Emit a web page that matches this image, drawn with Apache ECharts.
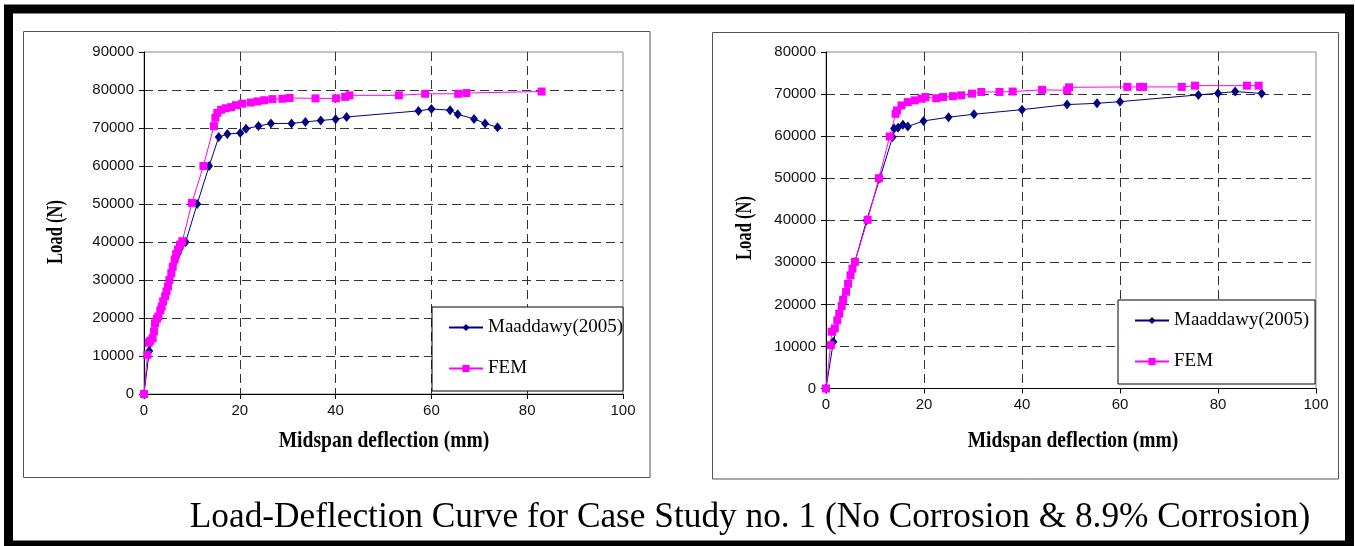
<!DOCTYPE html>
<html>
<head>
<meta charset="utf-8">
<script src="https://cdn.jsdelivr.net/npm/echarts@6/dist/echarts.min.js"></script>
<style>
  html, body { margin: 0; padding: 0; background: #fff; }
  #chart { width: 1355px; height: 546px; }
</style>
</head>
<body>
<div id="chart"></div>
<script>
// Midspan deflection (mm) vs load (N) pairs, case study no. 1
// Left panel: no corrosion
const maaddawyNoCorrosion = [
  [0, 0], [1.1, 11300], [3.0, 20400], [5.3, 30000], [8.7, 40000], [11.1, 50000],
  [13.6, 60000], [15.6, 67600], [17.4, 68400], [20.1, 68700], [21.3, 69800],
  [23.9, 70500], [26.5, 71200], [30.8, 71200], [33.7, 71600], [36.9, 72000],
  [40.0, 72300], [42.3, 72900], [57.3, 74500], [60.0, 75000], [63.9, 74700],
  [65.5, 73600], [68.9, 72400], [71.2, 71200], [73.8, 70200]
];
const femNoCorrosion = [
  [0, 0], [0.7, 10300], [1.0, 13500], [1.3, 14000], [1.8, 14700], [2.1, 16500],
  [2.3, 18600], [2.7, 19800], [3.0, 20400], [3.4, 22000], [3.7, 23000], [4.0, 24400],
  [4.4, 25700], [4.7, 27000], [5.0, 28300], [5.3, 30000], [5.7, 31800], [6.0, 33500],
  [6.4, 35400], [6.7, 36800], [7.1, 38000], [7.5, 39300], [8.0, 40200], [10.0, 50300],
  [12.4, 60000], [14.6, 70500], [14.9, 72700], [15.3, 74000], [16.1, 74800],
  [17.1, 75200], [18.2, 75500], [19.2, 76000], [20.5, 76400], [22.3, 76700],
  [23.7, 77000], [25.1, 77300], [26.8, 77600], [28.9, 77700], [30.4, 77900],
  [35.8, 77800], [40.1, 77800], [42.0, 78200], [42.9, 78600], [53.2, 78600],
  [58.7, 79000], [65.6, 79000], [67.3, 79200], [83.0, 79600]
];
// Right panel: 8.9% corrosion
const maaddawyCorroded = [
  [0, 0], [1.5, 11100], [3.5, 21100], [5.9, 30100], [8.3, 40000], [11.0, 50000],
  [13.6, 59800], [13.9, 61800], [14.7, 62000], [15.7, 62700], [16.7, 62300],
  [19.9, 63600], [25.0, 64500], [30.2, 65200], [40.0, 66300], [49.2, 67500],
  [55.3, 67800], [60.0, 68200], [76.0, 69800], [80.0, 70200], [83.5, 70600],
  [88.9, 70150]
];
const femCorroded = [
  [0, 0], [0.95, 10300], [1.15, 13500], [1.8, 14300], [2.3, 16200], [2.7, 17800],
  [3.2, 19600], [3.5, 21100], [4.1, 23000], [4.5, 24900], [5.0, 26900], [5.4, 28500],
  [5.9, 30100], [8.5, 40100], [10.8, 50000], [13.0, 59900], [14.2, 65300],
  [14.5, 66100], [15.4, 67300], [16.7, 68100], [18.1, 68500], [19.5, 68900],
  [20.3, 69300], [22.5, 69000], [23.9, 69300], [25.9, 69500], [27.6, 69700],
  [29.8, 70100], [31.7, 70500], [35.4, 70500], [38.1, 70600], [44.1, 71000],
  [49.2, 70900], [49.6, 71600], [61.5, 71700], [64.1, 71700], [64.7, 71700],
  [72.6, 71700], [75.3, 72000], [85.9, 72000], [88.3, 72000]
];

// Axis ranges and tick steps
const deflectionTicks = { min: 0, max: 100, step: 20 };
const loadTicksLeft = { min: 0, max: 90000, step: 10000 };
const loadTicksRight = { min: 0, max: 80000, step: 10000 };

const seriesNames = ['Maaddawy(2005)', 'FEM'];
const captionText = 'Load-Deflection Curve for Case Study no. 1 (No Corrosion & 8.9% Corrosion)';
const xAxisTitle = 'Midspan deflection (mm)';
const yAxisTitle = 'Load (N)';

const NAVY = '#000080';
const MAGENTA = '#ff00ff';
const tickFont = { fontFamily: '"Liberation Sans", Arial, sans-serif', fontSize: 15, color: '#111' };
const plainNumber = v => String(v);
const gridDash = { type: [9, 5], color: '#333', width: 1 };

function xAxisFor(gridIndex) {
  return {
    type: 'value', gridIndex,
    min: deflectionTicks.min, max: deflectionTicks.max, interval: deflectionTicks.step,
    axisLine: { show: true, onZero: false, lineStyle: { color: '#000', width: 1 } },
    axisTick: { show: true, inside: false, length: 5, lineStyle: { color: '#000' } },
    axisLabel: Object.assign({ margin: 9, formatter: plainNumber }, tickFont),
    splitLine: { show: true, showMinLine: false, showMaxLine: false, lineStyle: gridDash }
  };
}
function yAxisFor(gridIndex, ticks) {
  return {
    type: 'value', gridIndex,
    min: ticks.min, max: ticks.max, interval: ticks.step,
    axisLine: { show: true, onZero: false, lineStyle: { color: '#000', width: 1 } },
    axisTick: { show: true, inside: false, length: 5, lineStyle: { color: '#000' } },
    axisLabel: Object.assign({ margin: 10, formatter: plainNumber }, tickFont),
    splitLine: { show: true, showMinLine: false, showMaxLine: false, lineStyle: gridDash }
  };
}
function lineSeries(name, data, idx, color, symbol, size) {
  return {
    name, type: 'line', data, xAxisIndex: idx, yAxisIndex: idx,
    symbol, symbolSize: size, showAllSymbol: true,
    lineStyle: { color, width: 1 }, itemStyle: { color },
    emphasis: { disabled: true }
  };
}
function legendAt(left, top, padRight) {
  return {
    left, top, orient: 'vertical', data: seriesNames, selectedMode: false,
    itemWidth: 34, itemHeight: 9, itemGap: 22, itemTextGap: 7,
    padding: [11, padRight, 13, 16],
    borderColor: '#000', borderWidth: 1, backgroundColor: '#fff',
    textStyle: { fontFamily: '"Liberation Serif", "Times New Roman", serif', fontSize: 19, color: '#000' }
  };
}
const serifBold = 'bold 23px "Liberation Serif", "Times New Roman", serif';

const chart = echarts.init(document.getElementById('chart'), null, { renderer: 'canvas' });
chart.setOption({
  animation: false,
  backgroundColor: '#fff',
  grid: [
    { left: 144, top: 52, width: 479, height: 342, show: true, borderColor: '#888', borderWidth: 1 },
    { left: 826, top: 52, width: 490, height: 336.5, show: true, borderColor: '#888', borderWidth: 1 }
  ],
  xAxis: [xAxisFor(0), xAxisFor(1)],
  yAxis: [yAxisFor(0, loadTicksLeft), yAxisFor(1, loadTicksRight)],
  legend: [legendAt(432, 307, 0), legendAt(1118, 300, 6)],
  series: [
    lineSeries(seriesNames[0], maaddawyNoCorrosion, 0, NAVY, 'diamond', [8, 10]),
    lineSeries(seriesNames[1], femNoCorrosion, 0, MAGENTA, 'rect', 8),
    lineSeries(seriesNames[0], maaddawyCorroded, 1, NAVY, 'diamond', [8, 10]),
    lineSeries(seriesNames[1], femCorroded, 1, MAGENTA, 'rect', 8)
  ],
  graphic: [
    // outer frame
    { type: 'rect', z: 100, silent: true,
      shape: { x: 8.5, y: 9, width: 1341, height: 536 },
      style: { fill: 'none', stroke: '#000', lineWidth: 9 } },
    // chart boxes
    { type: 'rect', silent: true, shape: { x: 23.5, y: 31.5, width: 626.5, height: 446 },
      style: { fill: 'none', stroke: '#555', lineWidth: 1 } },
    { type: 'rect', silent: true, shape: { x: 712.5, y: 32.5, width: 626, height: 446.5 },
      style: { fill: 'none', stroke: '#555', lineWidth: 1 } },
    // axis titles
    { type: 'text', silent: true, x: 384, y: 441, scaleX: 0.85,
      style: { text: xAxisTitle, font: serifBold, fill: '#000', align: 'center', verticalAlign: 'middle' } },
    { type: 'text', silent: true, x: 1073, y: 441, scaleX: 0.85,
      style: { text: xAxisTitle, font: serifBold, fill: '#000', align: 'center', verticalAlign: 'middle' } },
    { type: 'text', silent: true, x: 56, y: 232, rotation: Math.PI / 2, scaleX: 0.72,
      style: { text: yAxisTitle, font: serifBold, fill: '#000', align: 'center', verticalAlign: 'middle' } },
    { type: 'text', silent: true, x: 745, y: 228, rotation: Math.PI / 2, scaleX: 0.72,
      style: { text: yAxisTitle, font: serifBold, fill: '#000', align: 'center', verticalAlign: 'middle' } },
    // caption
    { type: 'text', silent: true, x: 750, y: 518,
      style: { text: captionText, font: '35.3px "Liberation Serif", "Times New Roman", serif',
        fill: '#000', align: 'center', verticalAlign: 'middle' } }
  ]
});
</script>
</body>
</html>
